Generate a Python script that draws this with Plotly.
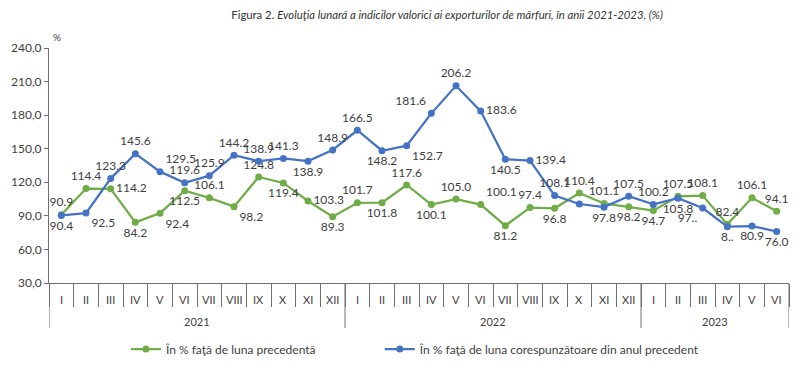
import plotly.graph_objects as go

years = ["2021"] * 12 + ["2022"] * 12 + ["2023"] * 6
months = ["I", "II", "III", "IV", "V", "VI", "VII", "VIII", "IX", "X", "XI", "XII"] * 2 + ["I", "II", "III", "IV", "V", "VI"]

prev_month = [90.9, 114.4, 114.2, 84.2, 92.4, 112.5, 106.1, 98.2, 124.8, 119.4, 103.3, 89.3,
              101.7, 101.8, 117.6, 100.1, 105.0, 100.1, 81.2, 97.4, 96.8, 110.4, 101.1, 98.2,
              94.7, 107.5, 108.1, 82.4, 106.1, 94.1]
prev_year = [90.4, 92.5, 123.3, 145.6, 129.5, 119.6, 125.9, 144.2, 138.9, 141.3, 138.9, 148.9,
             166.5, 148.2, 152.7, 181.6, 206.2, 183.6, 140.5, 139.4, 108.1, 100.6, 97.8, 107.5,
             100.2, 105.8, 97.0, 80.3, 80.9, 76.0]

prev_month_labels = [f"{v:.1f}" for v in prev_month]
prev_year_labels = [f"{v:.1f}" for v in prev_year]
prev_year_labels[21] = ""
prev_year_labels[26] = "97.."
prev_year_labels[27] = "8.."

pos_green = ["top center", "top center", "middle right", "bottom center", "bottom right", "bottom center",
             "top center", "bottom right", "top center", "bottom center", "middle right", "bottom center",
             "top center", "bottom center", "top center", "bottom center", "top center", "top right",
             "bottom center", "top center", "bottom center", "top center", "top center", "bottom center",
             "bottom center", "top center", "top center", "top center", "top center", "top center"]
pos_blue = ["bottom center", "bottom right", "top center", "top center", "top right", "top center",
            "top center", "top center", "top center", "top center", "bottom center", "top center",
            "top center", "bottom center", "bottom right", "top left", "top center", "middle right",
            "bottom center", "middle right", "top center", "bottom center", "bottom center", "top center",
            "top center", "bottom center", "bottom left", "bottom center", "bottom center", "bottom center"]

y_ticks = [30, 60, 90, 120, 150, 180, 210, 240]
y_ticktext = [f"{v:.1f}".replace(".", ",") for v in y_ticks]

GREEN = "#70AD47"
BLUE = "#4472C4"
FONT = "Lato"
TXT = "#404040"
AXC = "#6f6f6f"

n = len(months)
idx = list(range(n))
M_T, M_B = 40, 93
PLOT_H = 368 - M_T - M_B

fig = go.Figure()
fig.add_trace(go.Scatter(
    x=idx, y=prev_month, mode="lines+markers+text",
    name="În % faţă de luna precedentă", legend="legend",
    line=dict(color=GREEN, width=2.25), marker=dict(color=GREEN, size=7),
    text=prev_month_labels, textposition=pos_green,
    textfont=dict(family=FONT, size=12, color=TXT), cliponaxis=False,
))
fig.add_trace(go.Scatter(
    x=idx, y=prev_year, mode="lines+markers+text",
    name="În % faţă de luna corespunzătoare din anul precedent", legend="legend2",
    line=dict(color=BLUE, width=2.25), marker=dict(color=BLUE, size=7),
    text=prev_year_labels, textposition=pos_blue,
    textfont=dict(family=FONT, size=12, color=TXT), cliponaxis=False,
))

# month labels
for i, m in enumerate(months):
    fig.add_annotation(text=m, x=i, xref="x", y=0, yref="paper", yanchor="middle", yshift=-16,
                       showarrow=False, font=dict(family=FONT, size=11, color=TXT))

# year groups: dividers and labels
bounds = [-0.5]
for i in range(1, n):
    if years[i] != years[i - 1]:
        bounds.append(i - 0.5)
bounds.append(n - 0.5)
for b in bounds:
    fig.add_shape(type="line", x0=b, x1=b, xref="x", y0=0, y1=-45 / PLOT_H, yref="paper",
                  line=dict(color=AXC, width=1))
for a, b in zip(bounds[:-1], bounds[1:]):
    label = years[int(a + 0.5)]
    fig.add_annotation(text=label, x=(a + b) / 2, xref="x", y=0, yref="paper", yanchor="middle",
                       yshift=-38, showarrow=False, font=dict(family=FONT, size=11, color=TXT))

fig.update_layout(
    width=809, height=368,
    margin=dict(l=41, r=28, t=M_T, b=M_B, autoexpand=False),
    paper_bgcolor="white", plot_bgcolor="white",
    font=dict(family=FONT, size=12, color=TXT),
    title=dict(text="Figura 2. <i>Evoluţia lunară a indicilor valorici ai exporturilor de mărfuri, în anii 2021-2023, (%)</i>",
               x=0.538, xref="paper", xanchor="center", y=0.982, yref="container", yanchor="middle",
               font=dict(family=FONT, size=11.3, color="#333333")),
    legend=dict(orientation="h", x=0.104, xanchor="left", y=-0.281, yanchor="middle",
                font=dict(family=FONT, size=12, color=TXT)),
    legend2=dict(orientation="h", x=0.447, xanchor="left", y=-0.281, yanchor="middle",
                 font=dict(family=FONT, size=12, color=TXT)),
    showlegend=True,
)
fig.update_yaxes(range=[30, 240], tickvals=y_ticks, ticktext=y_ticktext, showgrid=False,
                 showline=True, linecolor=AXC, linewidth=1, ticks="outside", ticklen=4,
                 tickcolor=AXC, zeroline=False, tickfont=dict(size=12, color=TXT), automargin=False)
fig.update_xaxes(range=[-0.5, n - 0.5], showgrid=False, showline=True, linecolor=AXC, linewidth=1,
                 tickvals=[i - 0.5 for i in range(n + 1)], ticks="outside", ticklen=23, tickcolor=AXC,
                 showticklabels=False, zeroline=False, automargin=False)
fig.add_annotation(text="%", x=0, xref="paper", xanchor="left", xshift=2, y=240, yref="y", yshift=11,
                   showarrow=False, font=dict(family=FONT, size=10, color=TXT))

fig.write_html("out.html")
